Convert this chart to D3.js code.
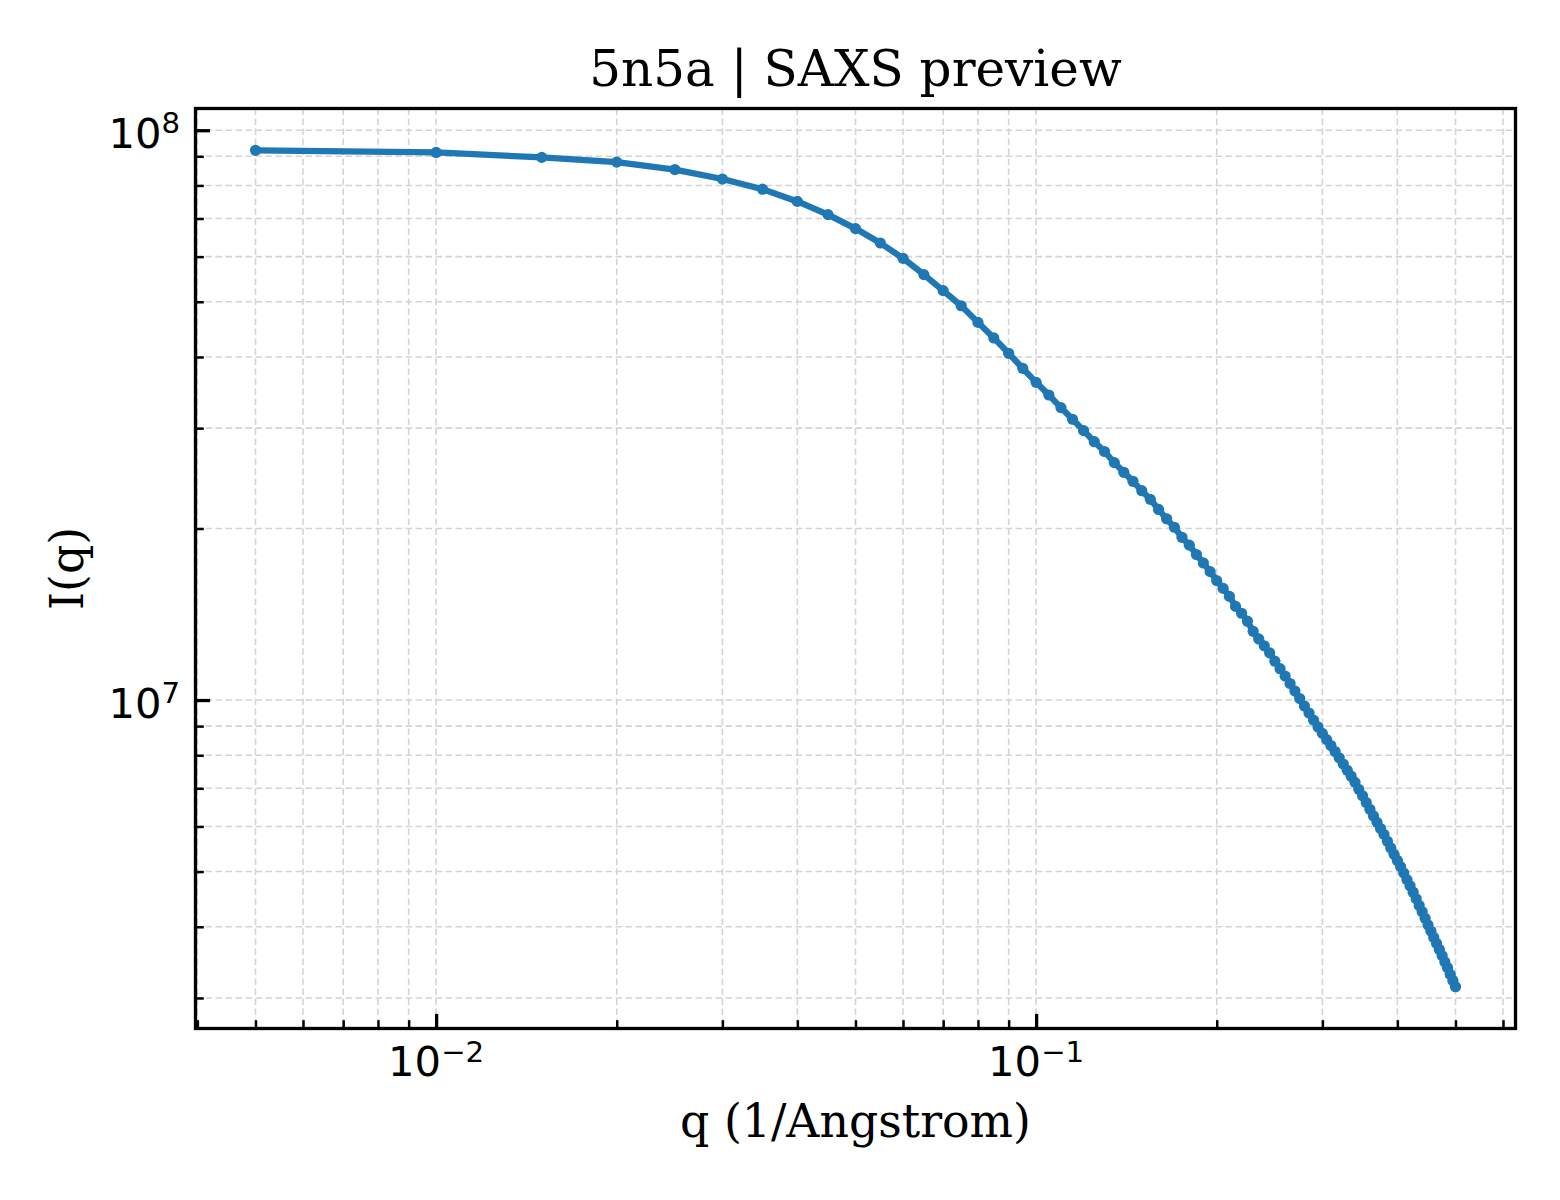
<!DOCTYPE html>
<html>
<head>
<meta charset="utf-8">
<script src="https://cdn.jsdelivr.net/npm/d3@7"></script>
<style>
  html, body { margin: 0; padding: 0; background: #ffffff; }
  svg { display: block; }
</style>
</head>
<body>
<svg id="chart" width="1560" height="1200"></svg>
<script>
// ---------------- data ----------------
const chartTitle = "5n5a | SAXS preview";
const xLabel = "q (1/Angstrom)";
const yLabel = "I(q)";

const qValues = [
  0.005, 0.010, 0.015, 0.020, 0.025, 0.030, 0.035, 0.040, 0.045, 0.050,
  0.055, 0.060, 0.065, 0.070, 0.075, 0.080, 0.085, 0.090, 0.095, 0.100,
  0.105, 0.110, 0.115, 0.120, 0.125, 0.130, 0.135, 0.140, 0.145, 0.150,
  0.155, 0.160, 0.165, 0.170, 0.175, 0.180, 0.185, 0.190, 0.195, 0.200,
  0.205, 0.210, 0.215, 0.220, 0.225, 0.230, 0.235, 0.240, 0.245, 0.250,
  0.255, 0.260, 0.265, 0.270, 0.275, 0.280, 0.285, 0.290, 0.295, 0.300,
  0.305, 0.310, 0.315, 0.320, 0.325, 0.330, 0.335, 0.340, 0.345, 0.350,
  0.355, 0.360, 0.365, 0.370, 0.375, 0.380, 0.385, 0.390, 0.395, 0.400,
  0.405, 0.410, 0.415, 0.420, 0.425, 0.430, 0.435, 0.440, 0.445, 0.450,
  0.455, 0.460, 0.465, 0.470, 0.475, 0.480, 0.485, 0.490, 0.495, 0.500
];

const intensity = [
  9.22e7, 9.14e7, 8.96e7, 8.79e7, 8.53e7, 8.21e7, 7.88e7, 7.50e7, 7.11e7, 6.72e7,
  6.34e7, 5.96e7, 5.58e7, 5.23e7, 4.92e7, 4.60e7, 4.32e7, 4.06e7, 3.82e7, 3.61e7,
  3.43e7, 3.26e7, 3.11e7, 2.97e7, 2.84e7, 2.73e7, 2.61e7, 2.51e7, 2.42e7, 2.33e7,
  2.25e7, 2.16e7, 2.08e7, 2.01e7, 1.93e7, 1.87e7, 1.80e7, 1.74e7, 1.68e7, 1.62e7,
  1.57e7, 1.52e7, 1.46e7, 1.42e7, 1.375e7, 1.32e7, 1.28e7, 1.245e7, 1.21e7, 1.17e7,
  1.135e7, 1.102e7, 1.069e7, 1.037e7, 1.006e7, 9.76e6, 9.49e6, 9.22e6, 8.97e6, 8.74e6,
  8.52e6, 8.32e6, 8.12e6, 7.92e6, 7.72e6, 7.53e6, 7.35e6, 7.17e6, 6.97e6, 6.79e6,
  6.61e6, 6.43e6, 6.26e6, 6.10e6, 5.95e6, 5.81e6, 5.65e6, 5.50e6, 5.36e6, 5.23e6,
  5.10e6, 4.97e6, 4.84e6, 4.72e6, 4.60e6, 4.48e6, 4.36e6, 4.25e6, 4.14e6, 4.03e6,
  3.93e6, 3.83e6, 3.74e6, 3.65e6, 3.56e6, 3.47e6, 3.39e6, 3.30e6, 3.22e6, 3.14e6
];

const xMajorTicks = [0.01, 0.1];
const xTickBase = ["10", "10"];
const xTickExp = ["\u22122", "\u22121"];
const yMajorTicks = [1e7, 1e8];
const yTickBase = ["10", "10"];
const yTickExp = ["7", "8"];

// ---------------- layout ----------------
const W = 1560, H = 1200;
const plot = { left: 195.5, right: 1515.5, top: 108.5, bottom: 1028.5 };
const lineColor = "#1f77b4";
const serif = "'DejaVu Serif', 'Liberation Serif', serif";
const mathFont = "'DejaVu Sans', 'Liberation Sans', sans-serif";

const svg = d3.select("#chart");
svg.append("rect").attr("width", W).attr("height", H).attr("fill", "#ffffff");

// log-space autoscale with 5% margins (matplotlib style)
function logDomain(vals) {
  const e = d3.extent(vals).map(Math.log10);
  const pad = 0.05 * (e[1] - e[0]);
  return [Math.pow(10, e[0] - pad), Math.pow(10, e[1] + pad)];
}

const x = d3.scaleLog().domain(logDomain(qValues)).range([plot.left, plot.right]);
const y = d3.scaleLog().domain(logDomain(intensity)).range([plot.bottom, plot.top]);

const xAll = x.ticks();
const yAll = y.ticks();
const isMajor = v => Math.abs(Math.log10(v) - Math.round(Math.log10(v))) < 1e-9;
const xMinor = xAll.filter(v => !isMajor(v));
const yMinor = yAll.filter(v => !isMajor(v));

// ---------------- grid ----------------
const grid = svg.append("g").attr("class", "grid")
  .attr("stroke", "#d4d4d4").attr("stroke-width", 1.6)
  .attr("stroke-dasharray", "6.5,3.5").attr("fill", "none");

grid.selectAll("line.gx").data(xAll).join("line")
  .attr("class", "gx")
  .attr("x1", d => x(d)).attr("x2", d => x(d))
  .attr("y1", plot.top).attr("y2", plot.bottom);

grid.selectAll("line.gy").data(yAll).join("line")
  .attr("class", "gy")
  .attr("y1", d => y(d)).attr("y2", d => y(d))
  .attr("x1", plot.left).attr("x2", plot.right);

// ---------------- data line & markers ----------------
const pts = qValues.map((q, i) => ({ q, v: intensity[i] }));

svg.append("path")
  .datum(pts)
  .attr("fill", "none")
  .attr("stroke", lineColor)
  .attr("stroke-width", 6.3)
  .attr("stroke-linejoin", "round")
  .attr("stroke-linecap", "round")
  .attr("d", d3.line().x(d => x(d.q)).y(d => y(d.v)));

svg.append("g").selectAll("circle").data(pts).join("circle")
  .attr("cx", d => x(d.q))
  .attr("cy", d => y(d.v))
  .attr("r", 5.6)
  .attr("fill", lineColor);

// ---------------- axes (ticks inward) ----------------
function styleAxis(g, width) {
  g.select(".domain").remove();
  g.selectAll(".tick line").attr("stroke", "#000").attr("stroke-width", width);
  g.selectAll(".tick text").remove();
}

svg.append("g")
  .attr("transform", `translate(0,${plot.bottom})`)
  .call(d3.axisBottom(x).tickValues(xMinor).tickSize(-8.3).tickFormat(""))
  .call(g => styleAxis(g, 2.5));

svg.append("g")
  .attr("transform", `translate(0,${plot.bottom})`)
  .call(d3.axisBottom(x).tickValues(xMajorTicks).tickSize(-14.6).tickFormat(""))
  .call(g => styleAxis(g, 3.3));

svg.append("g")
  .attr("transform", `translate(${plot.left},0)`)
  .call(d3.axisLeft(y).tickValues(yMinor).tickSize(-8.3).tickFormat(""))
  .call(g => styleAxis(g, 2.5));

svg.append("g")
  .attr("transform", `translate(${plot.left},0)`)
  .call(d3.axisLeft(y).tickValues(yMajorTicks).tickSize(-14.6).tickFormat(""))
  .call(g => styleAxis(g, 3.3));

// tick labels (mathtext-like 10^n)
const tickFont = 41.7, supFont = 29.2;

const xl = svg.append("g").attr("font-family", mathFont).attr("fill", "#000");
xMajorTicks.forEach((v, i) => {
  const t = xl.append("text")
    .attr("x", x(v)).attr("y", plot.bottom + 47.5)
    .attr("text-anchor", "middle")
    .attr("font-size", tickFont);
  t.append("tspan").text(xTickBase[i]);
  t.append("tspan").attr("font-size", supFont).attr("dy", -14.5).text(xTickExp[i]);
});

const yl = svg.append("g").attr("font-family", mathFont).attr("fill", "#000");
yMajorTicks.forEach((v, i) => {
  const t = yl.append("text")
    .attr("x", plot.left - 15.5).attr("y", y(v) + 17.5)
    .attr("text-anchor", "end")
    .attr("font-size", tickFont);
  t.append("tspan").text(yTickBase[i]);
  t.append("tspan").attr("font-size", supFont).attr("dy", -15).text(yTickExp[i]);
});

// ---------------- spines ----------------
svg.append("rect")
  .attr("x", plot.left).attr("y", plot.top)
  .attr("width", plot.right - plot.left)
  .attr("height", plot.bottom - plot.top)
  .attr("fill", "none").attr("stroke", "#000").attr("stroke-width", 3.3);

// ---------------- titles ----------------
const cx = (plot.left + plot.right) / 2;
const cy = (plot.top + plot.bottom) / 2;

svg.append("text")
  .attr("x", cx).attr("y", 86)
  .attr("text-anchor", "middle")
  .attr("font-family", serif).attr("font-size", 50)
  .attr("fill", "#000")
  .text(chartTitle);

svg.append("text")
  .attr("x", cx).attr("y", 1137)
  .attr("text-anchor", "middle")
  .attr("font-family", serif).attr("font-size", 45.8)
  .attr("fill", "#000")
  .text(xLabel);

svg.append("text")
  .attr("transform", `translate(83,${cy}) rotate(-90)`)
  .attr("text-anchor", "middle")
  .attr("font-family", serif).attr("font-size", 45.8)
  .attr("fill", "#000")
  .text(yLabel);
</script>
</body>
</html>
